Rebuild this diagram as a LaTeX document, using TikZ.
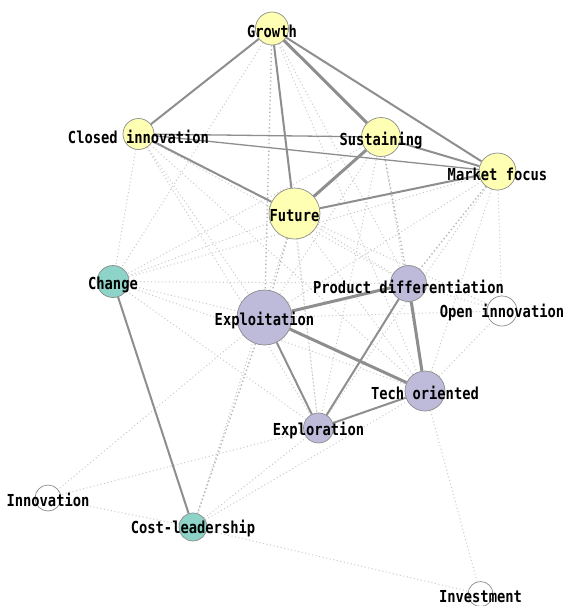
\documentclass[tikz,border=0pt]{standalone}
\usepackage{fontspec}
\newfontfamily\labfont[FakeStretch=0.835]{DejaVu Sans Mono}
\pgfdeclarelayer{back}
\pgfdeclarelayer{edges}
\pgfsetlayers{back,edges,main}
\definecolor{yel}{HTML}{FFFFB3}
\definecolor{tea}{HTML}{8DD3C7}
\definecolor{lav}{HTML}{BEBADA}
\definecolor{rim}{HTML}{8C8C8C}
\definecolor{linkc}{HTML}{8E8E8E}
\definecolor{dotc}{HTML}{CACACA}
\definecolor{dotd}{HTML}{B4B4B4}
\tikzset{
  bub/.style={circle,draw=rim,line width=0.7pt,inner sep=0pt,minimum size=#1},
  lab/.style={font=\labfont\bfseries\fontsize{16.5}{17}\selectfont,inner sep=0pt,text=black},
  wthick/.style={draw=linkc,line width=3pt},
  wmid/.style={draw=linkc,line width=2pt},
  wthin/.style={draw=linkc,line width=1.3pt},
  weak/.style={draw=dotc,line width=1pt,dash pattern=on 1pt off 2.6pt},
  weakd/.style={draw=dotd,line width=1.4pt,dash pattern=on 1.3pt off 2.6pt},
}
\begin{document}
\begin{tikzpicture}[x=1pt,y=-1pt]
\useasboundingbox (0,0) rectangle (567,606);
\begin{pgfonlayer}{back}
\fill[white] (0,0) rectangle (567,606);
\end{pgfonlayer}

% bubbles
\node[bub=33, fill=yel] (G)   at (272,28.5) {};
\node[bub=31, fill=yel] (CI)  at (138.5,134) {};
\node[bub=39, fill=yel] (S)   at (381,137) {};
\node[bub=37, fill=yel] (MF)  at (497.5,171.5) {};
\node[bub=51, fill=yel] (F)   at (294.5,213.5) {};
\node[bub=32, fill=tea] (Ch)  at (113,281.5) {};
\node[bub=55, fill=lav] (Ex)  at (264.5,317.5) {};
\node[bub=36, fill=lav] (PD)  at (408.5,283.5) {};
\node[bub=30, fill=white] (OI) at (502,311) {};
\node[bub=40, fill=lav] (T)   at (425,391) {};
\node[bub=30, fill=lav] (Xr)  at (318.5,428) {};
\node[bub=26, fill=white] (In) at (48,498) {};
\node[bub=28, fill=tea] (CL)  at (193,527) {};
\node[bub=25, fill=white] (Iv) at (480.5,594) {};

\begin{pgfonlayer}{edges}
% weak ties
\foreach \a/\b in {G/Ch,G/Xr,G/PD,G/T,
  CI/Ch,CI/Ex,CI/PD,CI/T,CI/Xr,
  S/Ch,S/Ex,S/T,S/Xr,
  MF/Ch,MF/Ex,MF/T,MF/OI,MF/Xr,
  F/Ch,F/PD,F/T,F/Xr,F/OI,F/CL,
  Ch/Ex,Ch/PD,Ch/T,Ch/Xr,
  Ex/In,Ex/OI,Xr/In,PD/OI,T/OI,
  CL/In,CL/Iv,CL/T,CL/Xr,T/Iv}
  \draw[weak] (\a) -- (\b);
\foreach \a/\b in {G/Ex,F/Ex,S/PD,MF/PD,Ex/CL}
  \draw[weakd] (\a) -- (\b);
% strong ties
\draw[wmid] (G) -- (CI);
\draw[wmid] (G) -- (F);
\draw[wthick] (G) -- (S);
\draw[wmid] (G) -- (MF);
\draw[wthin] (CI) -- (S);
\draw[wthin] (CI) -- (MF);
\draw[wmid] (CI) -- (F);
\draw[wmid] (S) -- (MF);
\draw[wthick] (S) -- (F);
\draw[wmid] (F) -- (MF);
\draw[wmid] (Ch) -- (CL);
\draw[wthick] (Ex) -- (PD);
\draw[wthick] (Ex) -- (T);
\draw[wmid] (Ex) -- (Xr);
\draw[wthick] (PD) -- (T);
\draw[wmid] (PD) -- (Xr);
\draw[wmid] (Xr) -- (T);
\end{pgfonlayer}

% labels
\node[lab] (Gl)  at ([yshift=-2.5pt]G.center)  {Growth};
\node[lab] (CIl) at ([yshift=-2.5pt]CI.center) {Closed innovation};
\node[lab] (Sl)  at ([yshift=-3pt]S.center)    {Sustaining};
\node[lab] (MFl) at ([yshift=-2.5pt]MF.center) {Market focus};
\node[lab] (Fl)  at ([yshift=-2.5pt]F.center)  {Future};
\node[lab] (Chl) at ([yshift=-3pt]Ch.center)   {Change};
\node[lab] (Exl) at ([yshift=-3pt]Ex.center)   {Exploitation};
\node[lab] (PDl) at ([yshift=-3pt]PD.center)   {Product differentiation};
\node[lab] (OIl) at ([yshift=-2pt]OI.center)   {Open innovation};
\node[lab] (Tl)  at ([yshift=-2pt]T.center)    {Tech oriented};
\node[lab] (Xrl) at ([yshift=-3pt]Xr.center)   {Exploration};
\node[lab] (Inl) at ([yshift=-2pt]In.center)   {Innovation};
\node[lab] (CLl) at ([yshift=-2pt]CL.center)   {Cost-leadership};
\node[lab] (Ivl) at ([yshift=-3pt]Iv.center)   {Investment};
\end{tikzpicture}
\end{document}
